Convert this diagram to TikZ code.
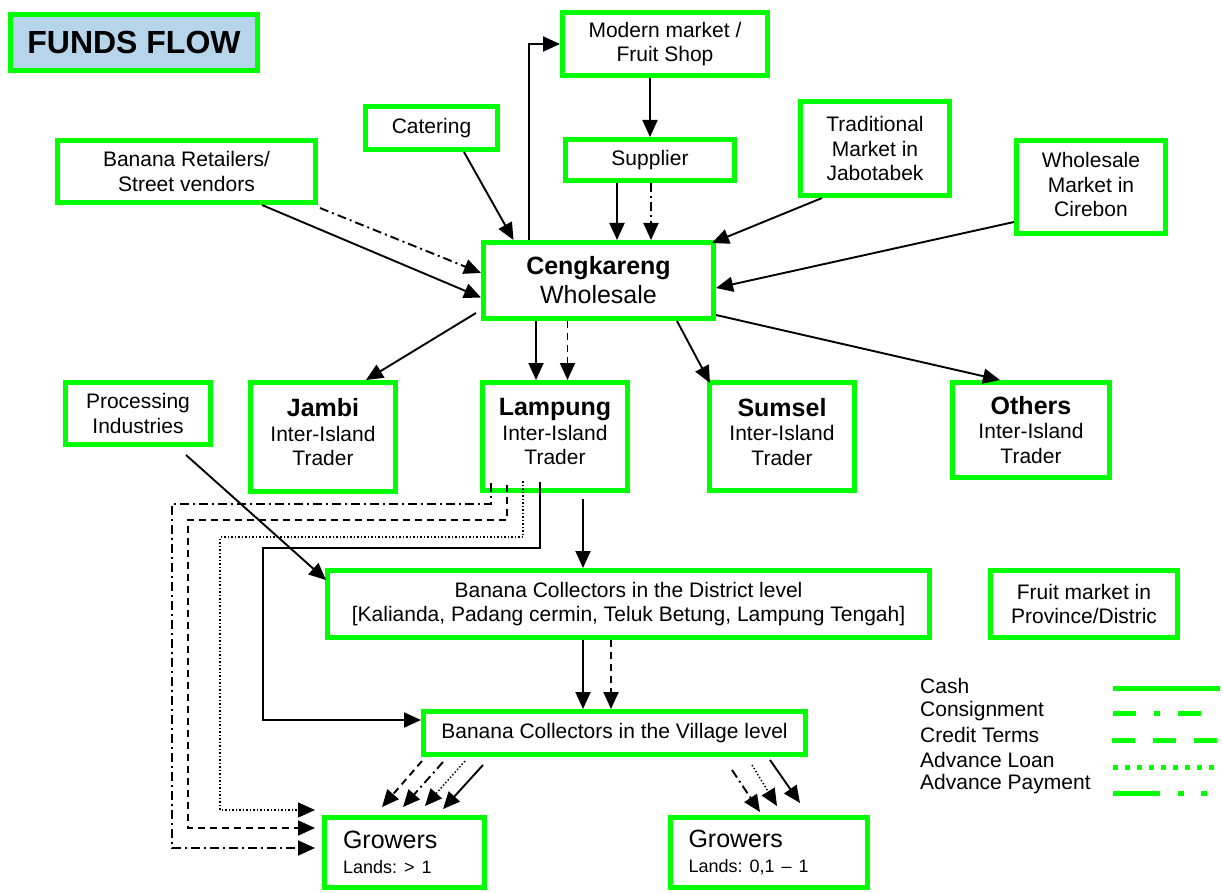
\documentclass[tikz,border=0pt]{standalone}
\usepackage{fontspec}
\setmainfont{Liberation Sans}
\usetikzlibrary{arrows.meta,calc}
\definecolor{boxgreen}{RGB}{0,255,0}
\definecolor{titleblue}{RGB}{182,212,234}
\newcommand\fsz[2]{\fontsize{#1}{#2}\selectfont}
\frenchspacing

\begin{document}
\begin{tikzpicture}[x=1pt,y=-1pt,
  box/.style={draw=boxgreen,line width=5pt,inner sep=0pt,align=center,
    font=\fsz{21}{24.5}},
  flow/.style={line width=1.9pt,-{Triangle[length=17pt,width=15pt]}},
  cash/.style={flow},
  consign/.style={flow,dash pattern=on 9pt off 4pt on 2pt off 4pt},
  credit/.style={flow,dash pattern=on 7pt off 5pt},
  loan/.style={flow,line width=1.4pt,dash pattern=on 1.5pt off 2pt},
  key/.style={draw=boxgreen,line width=5pt},
  keytext/.style={anchor=west,inner sep=0pt,font=\fsz{21}{24}}
]
\useasboundingbox (0,0) rectangle (1223,893);

% ---------- boxes ----------
\node[box,fill=titleblue,minimum width=247,minimum height=56,font=\fsz{32}{36}\bfseries]
  (funds) at (134,42.5) {FUNDS FLOW};
\node[box,minimum width=205,minimum height=63] (modern) at (665,44) {Modern market /\\Fruit Shop};
\node[box,minimum width=132,minimum height=43] (cater) at (431.5,128) {Catering};
\node[box,minimum width=169,minimum height=41] (supplier) at (650,160) {Supplier};
\node[box,minimum width=149,minimum height=94] (trad) at (875,148.5) {Traditional\\Market in\\Jabotabek};
\node[box,minimum width=149,minimum height=93] (cirebon) at (1091,187) {Wholesale\\Market in\\Cirebon\\[-20pt]\mbox{}};
\node[box,minimum width=258,minimum height=62] (retail) at (186.5,171.5) {Banana Retailers/\\Street vendors};
\node[box,minimum width=230,minimum height=76,font=\fsz{25}{29}] (cengk) at (598.5,280.5)
  {\textbf{Cengkareng}\\Wholesale};
\node[box,minimum width=145,minimum height=62] (proc) at (138,413.5) {Processing\\Industries};
% the trader boxes keep their text a little above the middle
\node[box,minimum width=145,minimum height=109] (jambi) at (323,437)
  {{\fsz{25}{29}\bfseries Jambi}\\Inter-Island\\Trader\\[-14.5pt]\mbox{}};
\node[box,minimum width=145,minimum height=108] (lamp) at (555,436.5)
  {{\fsz{25}{29}\bfseries Lampung}\\Inter-Island\\Trader\\[-14.5pt]\mbox{}};
\node[box,minimum width=145,minimum height=108] (sumsel) at (782,436.5)
  {{\fsz{25}{29}\bfseries Sumsel}\\Inter-Island\\Trader\\[-14.5pt]\mbox{}};
\node[box,minimum width=157,minimum height=95] (others) at (1031,430)
  {{\fsz{25}{29}\bfseries Others}\\Inter-Island\\Trader};
\node[box,minimum width=602,minimum height=67] (district) at (628.5,604)
  {Banana Collectors in the District level\\{}[Kalianda, Padang cermin, Teluk Betung, Lampung Tengah]};
\node[box,minimum width=187,minimum height=67] (fruit) at (1084,604) {Fruit market in\\Province/Distric};
\node[box,minimum width=382,minimum height=43] (village) at (614.5,733) {Banana Collectors in the Village level};
\node[box,align=left,inner xsep=18.5pt,text width=123pt,minimum height=70] (growL) at (404.5,852.5)
  {{\fsz{25}{29}Growers}\\{\fsz{18}{22}Lands: > 1}};
\node[box,align=left,inner xsep=18pt,text width=161pt,minimum height=70] (growR) at (769,852.5)
  {{\fsz{25}{29}Growers}\\{\fsz{18}{22}Lands: 0,1 -- 1}};

% ---------- flows into Cengkareng ----------
\draw[cash] ([shift={(75.5,0)}]retail.south) -- ([shift={(0,17)}]cengk.west);
\draw[consign] ([shift={(2,3)}]retail.south east) -- ([shift={(0,-7.5)}]cengk.west);
\draw[cash] ([shift={(32.5,0)}]cater.south) -- ([shift={(-85,0)}]cengk.north);
\draw[cash] ([shift={(-69.5,0)}]cengk.north) |- (modern.west);
\draw[cash] ([shift={(-15,0)}]modern.south) -- (supplier.north);
\draw[cash] ([shift={(-33,0)}]supplier.south) -- ([shift={(18.5,0)}]cengk.north);
\draw[consign] ([shift={(1,0)}]supplier.south) -- ([shift={(52.5,0)}]cengk.north);
\draw[cash] ([shift={(-53,0)}]trad.south) -- ([shift={(-4,3)}]cengk.north east);
\draw[cash] ([shift={(0,35)}]cirebon.west) -- ([shift={(0,7.5)}]cengk.east);

% ---------- flows out of Cengkareng ----------
\draw[cash] ([shift={(-5,-8)}]cengk.south west) -- ([shift={(43,0)}]jambi.north);
\draw[cash] ([shift={(-62.5,0)}]cengk.south) -- ([shift={(-19,0)}]lamp.north);
\draw[credit] ([shift={(-31,0)}]cengk.south) -- ([shift={(12.5,0)}]lamp.north);
\draw[cash] ([shift={(78.5,0)}]cengk.south) -- ([shift={(3,3)}]sumsel.north west);
\draw[cash] ([shift={(0,34.5)}]cengk.east) -- ([shift={(-31,0)}]others.north);

% ---------- Lampung and the collectors ----------
\draw[cash] ([shift={(48,8)}]proc.south) -- ([shift={(1,-24)}]district.west);
\draw[cash] ([shift={(28,6)}]lamp.south) -- ([shift={(-45.5,0)}]district.north);
\draw[consign] ([shift={(11,-10)}]lamp.south west) -- ++(0,21) -- ++(-319,0)
  |- ([shift={(-7,-4.5)}]growL.west);
\draw[credit] ([shift={(27,-8)}]lamp.south west) -- ++(0,35) -- ++(-319,0)
  |- ([shift={(-7,-24.5)}]growL.west);
\draw[loan] ([shift={(43,-12)}]lamp.south west) -- ++(0,56) -- ++(-303,0)
  |- ([shift={(-7,-42.5)}]growL.west);
\draw[cash] ([shift={(60,-11)}]lamp.south west) -- ++(0,66) -- ++(-277,0)
  |- ([shift={(0,-13)}]village.west);
\draw[cash] ([shift={(-45.5,0)}]district.south) -- ([shift={(-31.5,0)}]village.north);
\draw[credit] ([shift={(-17.5,0)}]district.south) -- ([shift={(-3.5,0)}]village.north);

% ---------- village collectors to growers ----------
\draw[credit] ([shift={(1,4)}]village.south west) -- ([shift={(60,-8)}]growL.north west);
\draw[consign] ([shift={(22,5)}]village.south west) -- ([shift={(81,-8)}]growL.north west);
\draw[loan] ([shift={(44,4)}]village.south west) -- ([shift={(103,-9)}]growL.north west);
\draw[cash] ([shift={(62,8)}]village.south west) -- ([shift={(121,-6)}]growL.north west);
\draw[consign] ([shift={(-76,13)}]village.south east) -- ([shift={(92,-3)}]growR.north west);
\draw[loan] ([shift={(-56,8)}]village.south east) -- ([shift={(109,-9)}]growR.north west);
\draw[cash] ([shift={(-38,3)}]village.south east) -- ([shift={(132,-12)}]growR.north west);

% ---------- legend ----------
\node[keytext] (kcash) at (920,686) {Cash};
\node[keytext] (kcons) at (920,711) {Consignment};
\node[keytext] (kcred) at (920,735) {Credit Terms};
\node[keytext] (kloan) at (920,760) {Advance Loan};
\node[keytext] (kpay)  at (920,784) {Advance Payment};
\draw[key] (1113,688) -- (1220,688);
\draw[key,dash pattern=on 23pt off 18pt on 6pt off 18pt] (1113,713) -- (1203,713);
\draw[key,dash pattern=on 23pt off 18pt] (1112,740) -- (1220,740);
\draw[key,dash pattern=on 5pt off 7pt] (1113,767) -- (1218,767);
\draw[key,dash pattern=on 47pt off 18pt on 6pt off 17pt] (1113,793) -- (1207,793);
\end{tikzpicture}
\end{document}
